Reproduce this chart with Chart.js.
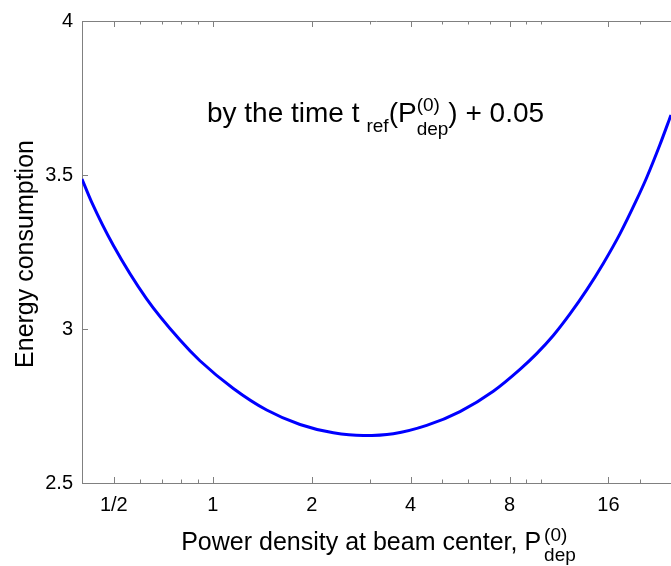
<!DOCTYPE html>
<html><head><meta charset="utf-8">
<script src="https://cdn.jsdelivr.net/npm/chart.js@4/dist/chart.umd.min.js"></script>
<style>html,body{margin:0;padding:0;background:#fff;}#wrap{width:671px;height:566px;}</style>
</head><body><div id="wrap"><canvas id="c" width="671" height="566"></canvas></div>
<script>
// ---- data ----
const powerDensity = [0.400, 0.428, 0.498, 0.629, 0.795, 0.914, 1.155, 1.459, 1.843, 2.327, 2.871, 3.543, 4.477, 5.654, 7.140, 8.608, 9.676, 10.87, 12.22, 13.74, 15.43, 17.34, 19.40, 20.92, 22.96, 24.8];
const energy       = [3.487, 3.412, 3.272, 3.098, 2.964, 2.897, 2.807, 2.737, 2.690, 2.663, 2.654, 2.660, 2.687, 2.732, 2.798, 2.869, 2.920, 2.979, 3.049, 3.127, 3.213, 3.309, 3.415, 3.492, 3.599, 3.695];
const xTickValues = [0.5, 1, 2, 4, 8, 16];
const xTickLabels = ['1/2', '1', '2', '4', '8', '16'];
const xMinorTicks = [0.6, 0.7, 0.8, 0.9, 3, 5, 6, 7, 9, 10, 20];
const yTickValues = [2.5, 3, 3.5, 4];
const yTickLabels = ['2.5', '3', '3.5', '4'];
const xRange = [0.4, 24.8];
const yRange = [2.5, 4];

const FONT = "'Liberation Sans', Arial, Helvetica, sans-serif";
const AXIS_COLOR = '#808080';

function drawRich(ctx, parts, cx, base) {
  const widths = parts.map(p => {
    ctx.font = p.size + 'px ' + FONT;
    if (p.sup !== undefined) return Math.max(ctx.measureText(p.sup).width, ctx.measureText(p.sub).width) + (p.gap || 0);
    return ctx.measureText(p.text).width + (p.gap || 0);
  });
  const total = widths.reduce((a, b) => a + b, 0);
  let x = cx - total / 2;
  ctx.textAlign = 'left';
  ctx.textBaseline = 'alphabetic';
  ctx.fillStyle = '#000';
  parts.forEach((p, i) => {
    ctx.font = p.size + 'px ' + FONT;
    const gx = x + (p.gap || 0);
    if (p.sup !== undefined) {
      ctx.fillText(p.sup, gx, base + p.supDy);
      ctx.fillText(p.sub, gx, base + p.subDy);
    } else {
      ctx.fillText(p.text, gx, base + (p.dy || 0));
    }
    x += widths[i];
  });
}

const framePlugin = {
  id: 'frame',
  afterDraw(chart) {
    const ctx = chart.ctx;
    const a = chart.chartArea;
    const xs = chart.scales.x, ys = chart.scales.y;
    ctx.save();
    ctx.strokeStyle = AXIS_COLOR;
    ctx.lineWidth = 1;
    // top frame line
    ctx.beginPath();
    ctx.moveTo(a.left, Math.round(a.top) + 0.5);
    ctx.lineTo(a.right, Math.round(a.top) + 0.5);
    ctx.stroke();
    // x ticks (inward, bottom and top)
    const tick = (v, len) => {
      const px = Math.round(xs.getPixelForValue(v)) + 0.5;
      ctx.beginPath();
      ctx.moveTo(px, a.bottom); ctx.lineTo(px, a.bottom - len);
      ctx.moveTo(px, a.top); ctx.lineTo(px, a.top + len);
      ctx.stroke();
    };
    xTickValues.forEach(v => tick(v, 6));
    xMinorTicks.forEach(v => tick(v, 3.5));
    // y ticks (inward, left)
    yTickValues.forEach(v => {
      const py = Math.round(ys.getPixelForValue(v)) + 0.5;
      ctx.beginPath();
      ctx.moveTo(a.left, py); ctx.lineTo(a.left + 6, py);
      ctx.stroke();
    });
    // title inside the plot
    const cx = (a.left + a.right) / 2 - 1;
    drawRich(ctx, [
      { text: 'by the time t', size: 28 },
      { text: 'ref', size: 19, dy: 10, gap: 7 },
      { text: '(P', size: 28 },
      { sup: '(0)', sub: 'dep', size: 19, supDy: -11, subDy: 13 },
      { text: ') + 0.05', size: 28 }
    ], cx, a.top + 101);
    // x axis title
    drawRich(ctx, [
      { text: 'Power density at beam center, P', size: 25 },
      { sup: '(0)', sub: 'dep', size: 19, supDy: -9, subDy: 11, gap: 3 },
    ], cx + 3, 550);
    // y axis title
    ctx.save();
    ctx.translate(33, 254);
    ctx.rotate(-Math.PI / 2);
    ctx.font = '25px ' + FONT;
    ctx.fillStyle = '#000';
    ctx.textAlign = 'center';
    ctx.textBaseline = 'alphabetic';
    ctx.fillText('Energy consumption', 0, 0);
    ctx.restore();
    ctx.restore();
  }
};

new Chart(document.getElementById('c').getContext('2d'), {
  type: 'line',
  data: {
    datasets: [{
      data: powerDensity.map((x, i) => ({ x: x, y: energy[i] })),
      borderColor: '#0000ff',
      borderWidth: 3,
      pointRadius: 0,
      fill: false,
      cubicInterpolationMode: 'monotone'
    }]
  },
  options: {
    responsive: false,
    animation: false,
    devicePixelRatio: 1,
    layout: { padding: { top: 17, right: 0, left: 0, bottom: 0 } },
    plugins: { legend: { display: false }, tooltip: { enabled: false }, title: { display: false } },
    scales: {
      x: {
        type: 'logarithmic',
        min: xRange[0], max: xRange[1],
        afterBuildTicks: s => { s.ticks = xTickValues.map(v => ({ value: v })); },
        afterFit: s => { s.height = 83; },
        ticks: {
          callback: (v) => { const i = xTickValues.indexOf(v); return i >= 0 ? xTickLabels[i] : ''; },
          color: '#000', font: { family: FONT, size: 20 }, padding: 10,
          maxRotation: 0, minRotation: 0, autoSkip: false
        },
        grid: { display: true, drawOnChartArea: false, drawTicks: false },
        border: { display: true, color: AXIS_COLOR, width: 1 }
      },
      y: {
        type: 'linear',
        min: yRange[0], max: yRange[1],
        afterBuildTicks: s => { s.ticks = yTickValues.map(v => ({ value: v })); },
        afterFit: s => { s.width = 82; },
        ticks: {
          callback: (v) => { const i = yTickValues.indexOf(v); return i >= 0 ? yTickLabels[i] : ''; },
          color: '#000', font: { family: FONT, size: 20 }, padding: 9
        },
        grid: { display: true, drawOnChartArea: false, drawTicks: false },
        border: { display: true, color: AXIS_COLOR, width: 1 }
      }
    }
  },
  plugins: [framePlugin]
});
</script>
</body></html>
